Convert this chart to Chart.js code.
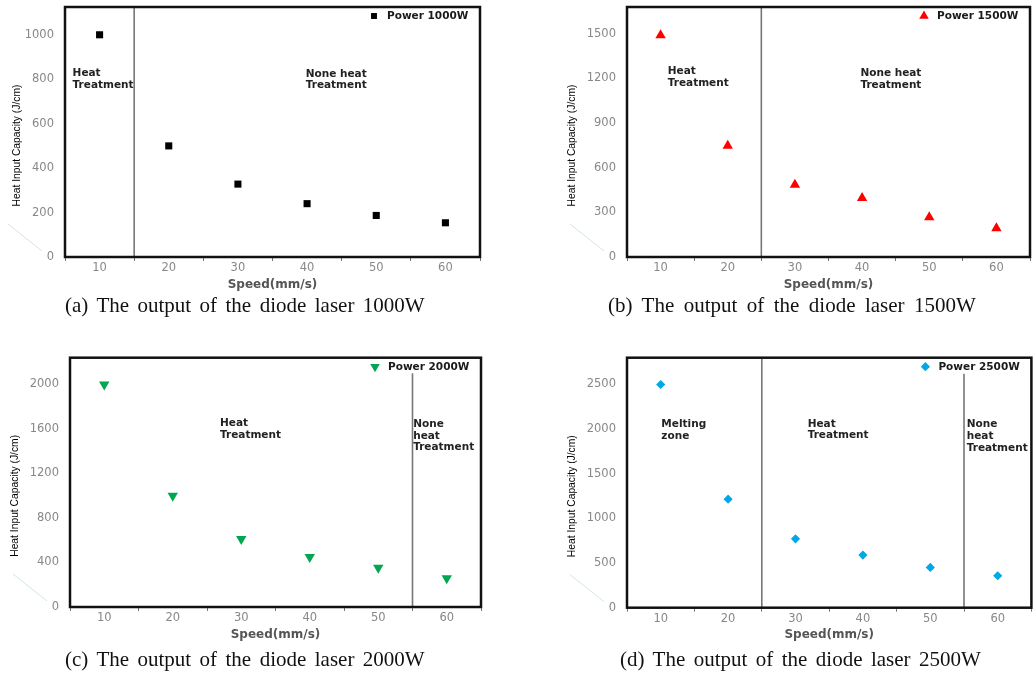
<!DOCTYPE html>
<html>
<head>
<meta charset="utf-8">
<script src="https://cdn.jsdelivr.net/npm/chart.js@4.4.1/dist/chart.umd.min.js"></script>
<style>
  body { margin: 0; background: #fff; width: 1036px; height: 674px; overflow: hidden; position: relative; }
  canvas { position: absolute; }
  .cap { position: absolute; font-family: "Liberation Serif", "Times New Roman", serif; font-size: 21px; line-height: 21px; color: #111; white-space: nowrap; word-spacing: 3.2px; }
</style>
</head>
<body>
<canvas id="ca" width="490" height="300" style="left:0;top:0"></canvas>
<canvas id="cb" width="496" height="300" style="left:540px;top:0"></canvas>
<canvas id="cc" width="490" height="320" style="left:0;top:330px"></canvas>
<canvas id="cd" width="496" height="320" style="left:540px;top:330px"></canvas>
<div class="cap" style="left:65px;top:295px">(a) The output of the diode laser 1000W</div>
<div class="cap" style="left:608px;top:295px;word-spacing:4.2px">(b) The output of the diode laser 1500W</div>
<div class="cap" style="left:65px;top:649px">(c) The output of the diode laser 2000W</div>
<div class="cap" style="left:620px;top:649px">(d) The output of the diode laser 2500W</div>
<script>
// speeds (mm/s) and heat input (J/cm)
const speeds = [10, 20, 30, 40, 50, 60];
const heat1000 = [1000, 500, 328, 240, 187, 154];
const heat1500 = [1490, 748, 485, 397, 267, 193];
const heat2000 = [2000, 1000, 610, 449, 353, 258];
const heat2500 = [2500, 1215, 771, 589, 451, 358];

// y tick labels and axis tops
const yTicks1000 = [0, 200, 400, 600, 800, 1000];
const yTicks1500 = [0, 300, 600, 900, 1200, 1500];
const yTicks2000 = [0, 400, 800, 1200, 1600, 2000];
const yTicks2500 = [0, 500, 1000, 1500, 2000, 2500];
const yMax = [1125, 1680, 2240, 2800];

// zone boundaries (speed) and where the line stops at the top (null = full height)
const bounds1000 = [15];
const bounds1500 = [25];
const bounds2000 = [55];
const bounds2500 = [25, 55];
const boundTops1000 = [null];
const boundTops1500 = [null];
const boundTops2000 = [2100];
const boundTops2500 = [null, 2620];

const zones1000 = ['Heat\nTreatment', 'None heat\nTreatment'];
const zones1500 = ['Heat\nTreatment', 'None heat\nTreatment'];
const zones2000 = ['Heat\nTreatment', 'None\nheat\nTreatment'];
const zones2500 = ['Melting\nzone', 'Heat\nTreatment', 'None\nheat\nTreatment'];

const Y_TITLE = 'Heat Input Capacity (J/cm)';
const X_TITLE = 'Speed(mm/s)';

const panels = [
  {
    id: 'ca', label: 'Power 1000W', values: heat1000, color: '#000000',
    style: 'rect', rot: 0, r: 5, lr: 4.2,
    yMax: yMax[0], yTicks: yTicks1000, bounds: bounds1000, tops: boundTops1000,
    zones: zones1000, zonePos: [[6.1, 827], [39.8, 824]],
    area: { left: 65, right: 480, top: 7, bottom: 257 }, w: 490, h: 300, yTitleX: 16.7,
  },
  {
    id: 'cb', label: 'Power 1500W', values: heat1500, color: '#ff0000',
    style: 'triangle', rot: 0, r: 6, lr: 5.5,
    yMax: yMax[1], yTicks: yTicks1500, bounds: bounds1500, tops: boundTops1500,
    zones: zones1500, zonePos: [[11.07, 1248], [39.75, 1232]],
    area: { left: 87, right: 495, top: 7, bottom: 257 }, w: 496, h: 300, yTitleX: 32.3,
  },
  {
    id: 'cc', label: 'Power 2000W', values: heat2000, color: '#00a650',
    style: 'triangle', rot: 180, r: 6, lr: 5.5,
    yMax: yMax[2], yTicks: yTicks2000, bounds: bounds2000, tops: boundTops2000,
    zones: zones2000, zonePos: [[26.9, 1650], [55.1, 1641]],
    area: { left: 70, right: 481, top: 27.7, bottom: 277 }, w: 490, h: 320, yTitleX: 15,
  },
  {
    id: 'cd', label: 'Power 2500W', values: heat2500, color: '#00a8e8',
    style: 'rectRot', rot: 0, r: 4.6, lr: 4.6,
    yMax: yMax[3], yTicks: yTicks2500, bounds: bounds2500, tops: boundTops2500,
    zones: zones2500, zonePos: [[10.1, 2050], [31.8, 2056], [55.4, 2050]],
    area: { left: 87, right: 495, top: 27.7, bottom: 277.7 }, w: 496, h: 320, yTitleX: 32.3,
  },
];

const TICK_FONT = { family: '"DejaVu Sans", sans-serif', size: 11.5 };

// frame, zone lines, zone labels, legend and y title
const decor = {
  id: 'decor',
  afterDatasetsDraw(chart, args, o) {
    const { ctx, chartArea: a, scales: { x, y } } = chart;
    ctx.save();

    // faint stray stroke left of the axis
    ctx.strokeStyle = '#d4e4e4';
    ctx.lineWidth = 1;
    ctx.beginPath();
    ctx.moveTo(a.left - 57, a.bottom - 33);
    ctx.lineTo(a.left - 23, a.bottom - 6);
    ctx.stroke();

    ctx.strokeStyle = '#777';
    ctx.lineWidth = 1.6;
    o.bounds.forEach((b, i) => {
      const px = x.getPixelForValue(b);
      const top = o.tops[i] == null ? a.top : y.getPixelForValue(o.tops[i]);
      ctx.beginPath();
      ctx.moveTo(px, top);
      ctx.lineTo(px, a.bottom);
      ctx.stroke();
    });

    ctx.strokeStyle = '#111';
    ctx.lineWidth = 2.5;
    ctx.strokeRect(a.left, a.top, a.right - a.left, a.bottom - a.top);

    ctx.fillStyle = '#222';
    ctx.font = 'bold 10.5px "DejaVu Sans", sans-serif';
    ctx.textAlign = 'left';
    ctx.textBaseline = 'middle';
    o.zones.forEach((z, i) => {
      const [zx, zy] = o.zonePos[i];
      const px = x.getPixelForValue(zx);
      const py = y.getPixelForValue(zy);
      z.split('\n').forEach((line, k) => ctx.fillText(line, px, py + k * 11.6));
    });

    // legend
    const ds = chart.data.datasets[0];
    ctx.fillStyle = ds.backgroundColor;
    Chart.helpers.drawPoint(ctx, {
      pointStyle: ds.pointStyle, rotation: ds.rotation || 0, radius: o.lr, borderWidth: 0,
    }, a.right - 106, a.top + 9);
    ctx.fillStyle = '#1a1a1a';
    ctx.fillText(ds.label, a.right - 93, a.top + 9.5);

    // y axis title
    ctx.translate(o.yTitleX, (a.top + a.bottom) / 2 + 13.5);
    ctx.rotate(-Math.PI / 2);
    ctx.textAlign = 'center';
    ctx.fillStyle = '#000';
    ctx.font = '10.3px "Liberation Sans", Arial, sans-serif';
    ctx.fillText(Y_TITLE, 0, 0);

    ctx.restore();
  },
};

for (const p of panels) {
  new Chart(document.getElementById(p.id), {
    type: 'scatter',
    data: {
      datasets: [{
        label: p.label,
        data: speeds.map((s, i) => ({ x: s, y: p.values[i] })),
        backgroundColor: p.color,
        borderColor: p.color,
        borderWidth: 0,
        pointStyle: p.style,
        rotation: p.rot,
        pointRadius: p.r,
        pointHoverRadius: p.r,
      }],
    },
    options: {
      responsive: false,
      animation: false,
      events: [],
      layout: { padding: { left: 0, top: p.area.top, right: p.w - p.area.right, bottom: 0 } },
      plugins: {
        legend: { display: false },
        tooltip: { enabled: false },
        decor: {
          bounds: p.bounds, tops: p.tops, zones: p.zones, zonePos: p.zonePos,
          lr: p.lr, yTitleX: p.yTitleX,
        },
      },
      scales: {
        x: {
          type: 'linear', min: 5, max: 65,
          afterFit: (s) => { s.height = p.h - p.area.bottom; },
          ticks: {
            stepSize: 5, autoSkip: false, maxRotation: 0, padding: 0, color: '#888', font: TICK_FONT,
            callback: (v) => (v % 10 === 0 ? String(v) : ''),
          },
          grid: {
            drawOnChartArea: false, tickLength: 4, lineWidth: 1,
            color: (c) => (c.tick && c.tick.value % 10 !== 0 ? '#777' : 'rgba(0,0,0,0)'),
          },
          border: { display: false },
          title: {
            display: true, text: X_TITLE, color: '#555',
            font: { family: '"DejaVu Sans", sans-serif', size: 12, weight: 'bold' },
            padding: { top: 0, bottom: 8 },
          },
        },
        y: {
          min: 0, max: p.yMax,
          afterFit: (s) => { s.width = p.area.left; },
          afterBuildTicks: (s) => { s.ticks = p.yTicks.map((v) => ({ value: v })); },
          ticks: { padding: 0, color: '#888', font: TICK_FONT, callback: (v) => String(v) },
          grid: { drawOnChartArea: false, tickLength: 11, color: 'rgba(0,0,0,0)' },
          border: { display: false },
        },
      },
    },
    plugins: [decor],
  });
}
</script>
</body>
</html>
